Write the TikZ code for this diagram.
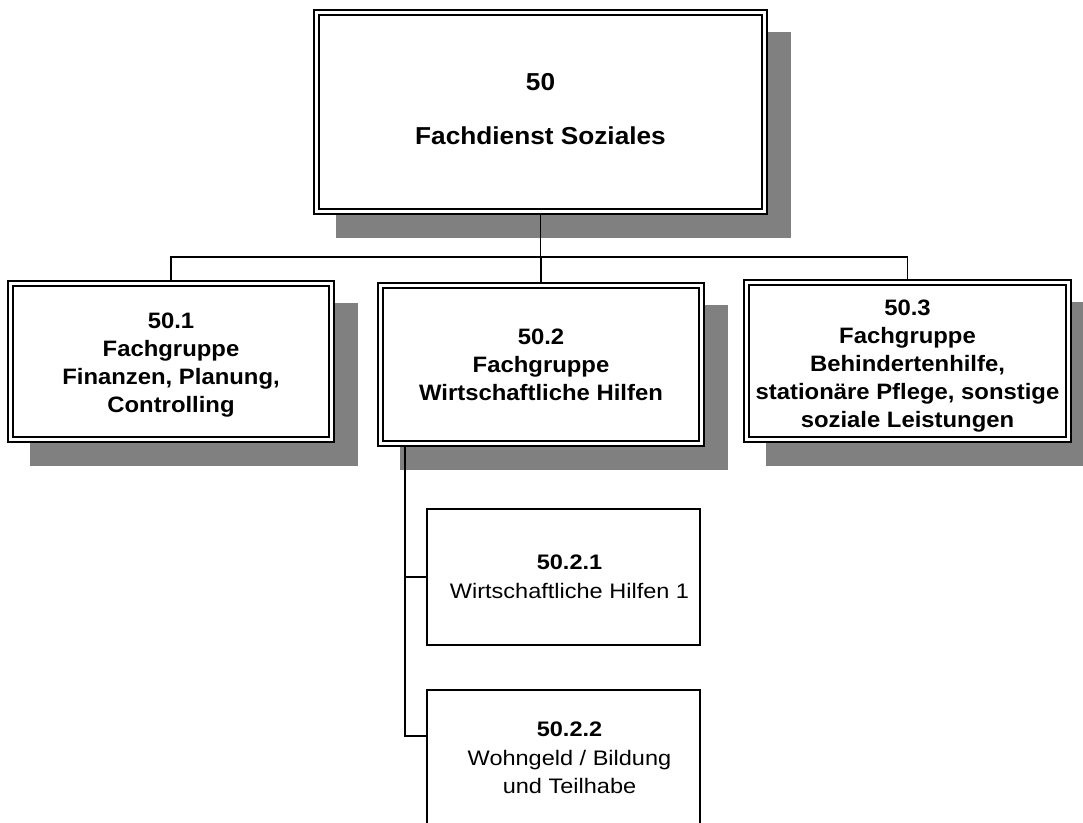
\documentclass[tikz,border=0pt]{standalone}
\usepackage{fontspec}
\setmainfont{Liberation Sans}
\newfontfamily\bff[FakeStretch=1.07]{Liberation Sans}
\newfontfamily\rgf[FakeStretch=1.12]{Liberation Sans}
\usetikzlibrary{calc,backgrounds}
\definecolor{shadowgray}{HTML}{808080}
\begin{document}
\begin{tikzpicture}[x=1pt,y=-1pt,
  box/.style={draw, fill=white, line width=1.8pt, inner sep=0pt, outer sep=0pt},
  mainbox/.style={box, line width=2.8pt},
  grpbox/.style={box},
  maintext/.style={align=center, inner sep=0pt, font=\bff\bfseries\fontsize{24.5}{54}\selectfont},
  grptext/.style={align=center, inner sep=0pt, font=\bff\bfseries\fontsize{22.3}{28}\selectfont},
  subbox/.style={draw, fill=white, line width=1.3pt, inner sep=0pt, outer sep=0pt},
  sublabel/.style={align=center, inner sep=0pt, font=\rgf\fontsize{21}{28.7}\selectfont},
  shade/.style={fill=shadowgray, draw=none},
  innerline/.style={line width=1.8pt},
  conn/.style={line width=1.4pt}
]
\useasboundingbox (0,0) rectangle (1083,822);
\clip (0,0) rectangle (1083,822);

% main boxes
\node[mainbox, minimum width=453pt, minimum height=204pt] (top) at (540.5,112) {};
\node[grpbox, minimum width=326pt, minimum height=161pt] (n1) at (171,361.5) {};
\node[grpbox, minimum width=326pt, minimum height=163pt] (n2) at (541,364.5) {};
\node[grpbox, minimum width=327pt, minimum height=162pt] (n3) at (907.5,361) {};

% inner lines of double frames
\draw[line width=1.9pt] ($(top.north west)+(5,5)$) rectangle ($(top.south east)+(-5,-5)$);
\foreach \n in {n1,n2,n3}
  \draw[innerline] ($(\n.north west)+(5,5)$) rectangle ($(\n.south east)+(-5,-5)$);

% texts
\node[maintext] (ttop) at ($(top.center)+(0,-2.5)$) {50\\Fachdienst Soziales};
\node[grptext] (t1) at ($(n1.center)+(0,4)$) {50.1\\Fachgruppe\\Finanzen, Planung,\\Controlling};
\node[grptext] (t2) at ($(n2.center)+(0,0)$) {50.2\\Fachgruppe\\Wirtschaftliche Hilfen};
\node[grptext] (t3) at ($(n3.center)+(0,5.5)$) {50.3\\Fachgruppe\\Behindertenhilfe,\\station\"are Pflege, sonstige\\soziale Leistungen};

% sub boxes
\node[subbox, minimum width=273pt, minimum height=136pt] (n21) at (563.5,577) {};
\node[subbox, minimum width=273pt, minimum height=136pt] (n22) at (563.5,758) {};
\node[sublabel] (t21) at ($(n21.center)+(6,0)$) {\textbf{50.2.1}\\Wirtschaftliche Hilfen 1};
\node[sublabel] (t22) at ($(n22.center)+(6,0)$) {\textbf{50.2.2}\\Wohngeld / Bildung\\und Teilhabe};

% shadows
\begin{scope}[on background layer]
  \foreach \n in {top,n1,n2,n3}
    \fill[shade] ($(\n.north west)+(22,22)$) rectangle ($(\n.south east)+(24,24)$);
\end{scope}

% connectors
\coordinate (bus) at (0,257);
\draw[conn] (top.south) -- (top.south |- bus);
\draw[conn] (n1.north) -- (n1.north |- bus) -- (n3.north |- bus) -- (n3.north);
\draw[conn] (n2.north) -- (n2.north |- bus);
\coordinate (c) at ($(n2.south west)+(27,0)$);
\coordinate (j22) at ($(n22.north west)+(0,46)$);
\draw[conn] (c) |- (n21.west);
\draw[conn] (c) |- (j22);
\end{tikzpicture}
\end{document}
